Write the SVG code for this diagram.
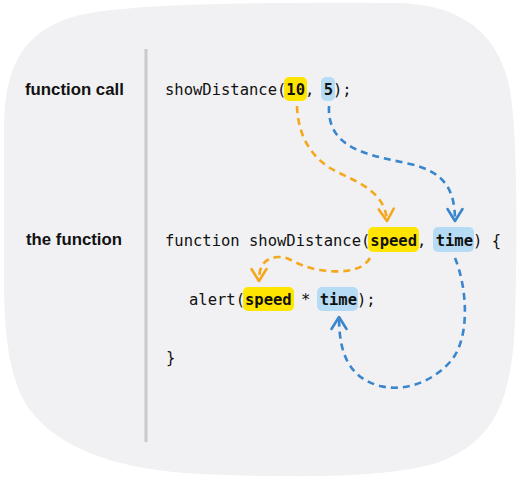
<svg xmlns="http://www.w3.org/2000/svg" width="520" height="479" viewBox="0 0 520 479">
<style>
.bg{fill:#f1f1f3}
.label{font-family:"Liberation Sans",Arial,sans-serif;font-weight:bold;font-size:16.8px;fill:#111}
.code{font-family:"DejaVu Sans Mono","Liberation Mono",monospace;font-size:15.5px;fill:#111}
.b{font-weight:bold}
.hy{fill:#ffe500}
.hb{fill:#b5dcf4}
.conn{fill:none;stroke-width:2.6;stroke-dasharray:7 5}
.or{stroke:#f5a81c}
.bl{stroke:#3a86cc}
</style>
<defs>
<marker id="ao" markerUnits="userSpaceOnUse" markerWidth="30" markerHeight="30" viewBox="-15 -15 30 30" refX="0" refY="0" orient="auto">
<path d="M -12,-7.5 L 0,0 L -12,7.5" fill="none" stroke="#f5a81c" stroke-width="2.6" stroke-linecap="round" stroke-linejoin="round"/>
</marker>
<marker id="ab" markerUnits="userSpaceOnUse" markerWidth="30" markerHeight="30" viewBox="-15 -15 30 30" refX="0" refY="0" orient="auto">
<path d="M -12,-7.5 L 0,0 L -12,7.5" fill="none" stroke="#3a86cc" stroke-width="2.6" stroke-linecap="round" stroke-linejoin="round"/>
</marker>
</defs>
<rect width="520" height="479" fill="#ffffff"/>
<path class="bg" d="M 4,130 C 4,70 20,30 80,15 C 130,4 250,2 400,3 C 470,6 500,40 510,90 C 518,140 517,250 515,320 C 512,400 495,440 440,462 C 390,478 300,478 200,474 C 120,470 60,450 30,410 C 8,380 4,330 4,280 Z"/>
<line x1="146" y1="49" x2="146" y2="442" stroke="#c9c9c9" stroke-width="3"/>
<g id="label-call"><text class="label" x="25" y="95">function call</text></g>
<g id="label-function"><text class="label" x="26" y="245">the function</text></g>
<g id="call">
<rect class="hy" x="284" y="77" width="23" height="24" rx="5"/>
<rect class="hb" x="321" y="77" width="14" height="24" rx="5"/>
<text class="code" x="165" y="95">showDistance(<tspan class="b">10</tspan>, <tspan class="b">5</tspan>);</text>
</g>
<g id="definition">
<rect class="hy" x="368" y="227" width="51" height="25" rx="5"/>
<rect class="hb" x="433" y="227" width="41" height="25" rx="5"/>
<text class="code" x="165" y="246">function showDistance(<tspan class="b">speed</tspan>, <tspan class="b">time</tspan>) {</text>
</g>
<g id="body">
<rect class="hy" x="243" y="287" width="51" height="24" rx="5"/>
<rect class="hb" x="317" y="287" width="41" height="24" rx="5"/>
<text class="code" x="189" y="305">alert(<tspan class="b">speed</tspan> * <tspan class="b">time</tspan>);</text>
</g>
<g id="close"><text class="code" x="166" y="363">}</text></g>
<g id="connectors">
<path class="conn or" d="M 297,106 C 298,135 310,155 330,168 C 350,180 385,188 387,221" marker-end="url(#ao)"/>
<path class="conn bl" d="M 329,106 C 327,150 370,155 410,164 C 445,172 455,190 455,221" marker-end="url(#ab)"/>
<path class="conn or" d="M 370,258 C 362,272 340,273 320,270 C 295,266 290,256 278,257 C 265,258 259,265 259,281" marker-end="url(#ao)"/>
<path class="conn bl" d="M 455,258 C 468,290 470,340 450,362 C 432,382 405,392 380,386 C 350,378 339,355 339,317" marker-end="url(#ab)"/>
</g>
</svg>
